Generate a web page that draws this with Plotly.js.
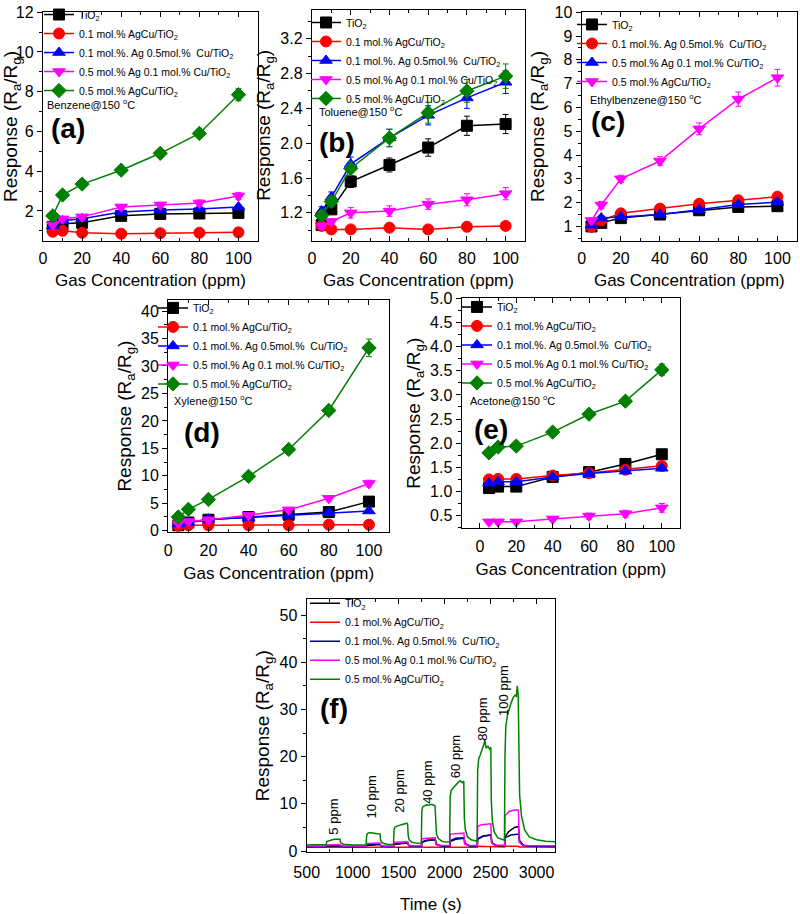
<!DOCTYPE html>
<html><head><meta charset="utf-8">
<script src="https://cdn.plot.ly/plotly-3.0.1.min.js"></script>
<style>html,body{margin:0;padding:0;background:#fff}#chart{width:800px;height:914px}</style>
</head><body><div id="chart"></div>
<script>
// ---------- labels ----------
const labTiO2 = 'TiO<sub>2</sub>';
const lab01 = '0.1 mol.% AgCu/TiO<sub>2</sub>';
const lab01Ag05Cu = '0.1 mol.%. Ag 0.5mol.%  Cu/TiO<sub>2</sub>';
const lab05Ag01Cu = '0.5 mol.% Ag 0.1 mol.% Cu/TiO<sub>2</sub>';
const lab05 = '0.5 mol.% AgCu/TiO<sub>2</sub>';

// ---------- concentrations ----------
const conc = [5, 10, 20, 40, 60, 80, 100];

// ---------- (a) Benzene ----------
const benzTiO2 = [1.2, 1.35, 1.4, 1.75, 1.85, 1.87, 1.9];
const benz01 = [0.95, 1.0, 0.9, 0.85, 0.88, 0.9, 0.92];
const benz01Ag05Cu = [1.25, 1.5, 1.6, 1.95, 2.05, 2.1, 2.2];
const benz05Ag01Cu = [1.3, 1.6, 1.7, 2.2, 2.3, 2.4, 2.75];
const benz05 = [1.75, 2.8, 3.35, 4.05, 4.9, 5.9, 7.85];
const benzErrTiO2 = [0.05, 0.06, 0.07, 0.08, 0.08, 0.09, 0.1];
const benzErr01 = [0.04, 0.04, 0.04, 0.04, 0.04, 0.04, 0.05];
const benzErr01Ag05Cu = [0.06, 0.07, 0.08, 0.1, 0.1, 0.1, 0.11];
const benzErr05Ag01Cu = [0.07, 0.08, 0.09, 0.12, 0.13, 0.15, 0.18];
const benzErr05 = [0.08, 0.1, 0.12, 0.12, 0.15, 0.18, 0.3];

// ---------- (b) Toluene ----------
const tolTiO2 = [1.06, 1.24, 1.56, 1.75, 1.95, 2.2, 2.22];
const tol01 = [1.05, 1.01, 1.01, 1.03, 1.01, 1.04, 1.05];
const tol01Ag05Cu = [1.22, 1.38, 1.76, 2.06, 2.32, 2.52, 2.7];
const tol05Ag01Cu = [1.05, 1.1, 1.2, 1.22, 1.3, 1.35, 1.42];
const tol05 = [1.17, 1.33, 1.71, 2.06, 2.35, 2.6, 2.77];
const tolErrTiO2 = [0.03, 0.05, 0.07, 0.08, 0.1, 0.11, 0.11];
const tolErr01 = [0.02, 0.02, 0.02, 0.02, 0.02, 0.02, 0.02];
const tolErr01Ag05Cu = [0.05, 0.06, 0.08, 0.1, 0.11, 0.12, 0.13];
const tolErr05Ag01Cu = [0.03, 0.03, 0.06, 0.06, 0.06, 0.07, 0.07];
const tolErr05 = [0.05, 0.06, 0.08, 0.1, 0.12, 0.13, 0.14];

// ---------- (c) Ethylbenzene ----------
const ethTiO2 = [1.0, 1.15, 1.35, 1.5, 1.68, 1.82, 1.85];
const eth01Ag05Cu = [0.98, 1.25, 1.55, 1.75, 1.95, 2.1, 2.25];
const eth05Ag01Cu = [1.05, 1.35, 1.4, 1.5, 1.7, 1.92, 2.02];
const eth05 = [1.25, 1.9, 3.0, 3.75, 5.1, 6.35, 7.25];
const ethErrTiO2 = [0.05, 0.06, 0.07, 0.07, 0.08, 0.08, 0.09];
const ethErr01Ag05Cu = [0.05, 0.06, 0.07, 0.08, 0.09, 0.1, 0.1];
const ethErr05Ag01Cu = [0.05, 0.06, 0.07, 0.08, 0.09, 0.1, 0.1];
const ethErr05 = [0.1, 0.15, 0.15, 0.18, 0.25, 0.3, 0.35];

// ---------- (d) Xylene ----------
const xylTiO2 = [1.0, 1.5, 2.0, 2.5, 2.9, 3.4, 5.3];
const xyl01 = [0.9, 1.0, 1.0, 1.0, 1.0, 1.1, 1.1];
const xyl01Ag05Cu = [1.2, 1.5, 2.1, 2.4, 2.8, 3.3, 3.6];
const xyl05Ag01Cu = [1.3, 1.7, 2.0, 2.8, 3.8, 5.9, 8.6];
const xyl05 = [2.5, 3.9, 5.7, 9.9, 14.8, 21.9, 33.3];
const xylErrTiO2 = [0.1, 0.1, 0.15, 0.15, 0.2, 0.2, 0.3];
const xylErr01 = [0.05, 0.05, 0.05, 0.05, 0.05, 0.05, 0.05];
const xylErr01Ag05Cu = [0.1, 0.1, 0.15, 0.15, 0.2, 0.2, 0.3];
const xylErr05Ag01Cu = [0.1, 0.15, 0.2, 0.3, 0.4, 0.5, 0.6];
const xylErr05 = [0.2, 0.3, 0.3, 0.4, 0.5, 0.6, 1.6];

// ---------- (e) Acetone ----------
const aceTiO2 = [1.07, 1.1, 1.1, 1.3, 1.4, 1.57, 1.77];
const ace01 = [1.25, 1.26, 1.26, 1.33, 1.38, 1.45, 1.53];
const ace01Ag05Cu = [1.17, 1.2, 1.2, 1.3, 1.37, 1.42, 1.48];
const ace05Ag01Cu = [0.37, 0.37, 0.37, 0.43, 0.49, 0.54, 0.66];
const ace05 = [1.8, 1.92, 1.94, 2.23, 2.6, 2.87, 3.52];
const aceErrTiO2 = [0.03, 0.03, 0.03, 0.04, 0.04, 0.05, 0.05];
const aceErr01 = [0.03, 0.03, 0.03, 0.04, 0.04, 0.04, 0.05];
const aceErr01Ag05Cu = [0.03, 0.03, 0.03, 0.04, 0.04, 0.04, 0.05];
const aceErr05Ag01Cu = [0.03, 0.03, 0.03, 0.05, 0.06, 0.07, 0.09];
const aceErr05 = [0.04, 0.05, 0.05, 0.06, 0.07, 0.08, 0.12];

// ---------- (f) Xylene dynamic response ----------
const tGreen = [500, 600, 700, 712, 718, 740, 760, 780, 800, 820, 845, 862, 868, 880, 900, 940, 1000, 1100, 1146,
  1152, 1160, 1180, 1200, 1220, 1250, 1280, 1298, 1303, 1315, 1340, 1380, 1444,
  1450, 1460, 1480, 1500, 1530, 1560, 1590, 1598, 1604, 1615, 1640, 1680, 1746,
  1752, 1760, 1780, 1800, 1830, 1860, 1895, 1902, 1912, 1935, 1970, 2020, 2054,
  2060, 2070, 2090, 2110, 2130, 2150, 2170, 2190, 2208, 2214, 2225, 2250, 2290, 2353,
  2359, 2370, 2390, 2410, 2425, 2438, 2450, 2470, 2490, 2502, 2507, 2518, 2540, 2580, 2650,
  2656, 2665, 2685, 2705, 2725, 2745, 2765, 2780, 2790, 2800, 2806, 2815, 2835, 2870, 2920, 3000, 3100, 3200];
const rGreen = [1.3, 1.3, 1.35, 1.4, 2.0, 2.2, 2.3, 2.4, 2.5, 2.55, 2.6, 2.5, 1.9, 1.6, 1.45, 1.35, 1.3, 1.3, 1.3,
  3.2, 3.7, 3.9, 3.8, 3.85, 3.75, 3.7, 3.6, 2.4, 1.9, 1.6, 1.45, 1.4,
  4.6, 5.1, 5.3, 5.4, 5.6, 5.8, 5.9, 5.6, 3.2, 2.4, 1.9, 1.7, 1.6,
  8.5, 9.3, 9.6, 9.8, 9.7, 9.9, 9.6, 5.0, 3.5, 2.6, 2.1, 1.9, 1.9,
  11.5, 12.8, 13.3, 13.8, 14.3, 14.6, 14.9, 14.5, 14.8, 7.0, 4.5, 3.0, 2.4, 2.1,
  17.0, 19.5, 20.5, 21.5, 22.5, 23.5, 21.8, 22.2, 21.6, 22.0, 11.0, 6.5, 4.0, 2.8, 2.3,
  20.0, 26.5, 29.0, 30.5, 31.5, 32.5, 33.0, 32.8, 35.0, 33.0, 18.0, 12.0, 7.5, 4.5, 3.0, 2.4, 2.1, 2.0];

const tPink = [500, 705, 712, 860, 866, 900, 1148, 1152, 1298, 1304, 1340, 1446, 1450, 1598, 1604, 1640, 1748, 1752, 1898, 1904, 1940,
  2056, 2060, 2210, 2216, 2250, 2355, 2359, 2400, 2503, 2509, 2540, 2652, 2656, 2700, 2760, 2803, 2809, 2840, 2900, 3200];
const rPink = [1.1, 1.1, 1.3, 1.4, 1.2, 1.1, 1.1, 1.6, 1.7, 1.2, 1.1, 1.1, 1.9, 2.0, 1.3, 1.15, 1.15, 2.6, 2.8, 1.4, 1.2,
  1.2, 3.6, 3.8, 1.5, 1.25, 1.2, 5.2, 5.6, 5.8, 1.8, 1.3, 1.25, 7.5, 8.4, 8.7, 8.7, 2.0, 1.3, 1.2, 1.15];

const tBlue = [500, 710, 714, 860, 870, 920, 1148, 1152, 1298, 1310, 1360, 1446, 1450, 1598, 1610, 1660, 1748, 1752, 1800, 1898, 1910, 1960,
  2056, 2060, 2120, 2210, 2222, 2270, 2355, 2359, 2420, 2503, 2515, 2560, 2652, 2656, 2720, 2803, 2815, 2860, 2950, 3200];
const rBlue = [0.9, 0.9, 1.1, 1.2, 1.0, 0.9, 0.9, 1.3, 1.5, 1.1, 0.95, 0.95, 1.5, 1.8, 1.2, 1.0, 1.0, 1.9, 2.3, 2.5, 1.5, 1.1,
  1.05, 2.2, 2.7, 2.8, 1.6, 1.15, 1.1, 2.6, 3.2, 3.4, 1.8, 1.2, 1.15, 2.8, 3.4, 3.6, 1.9, 1.2, 1.0, 0.95];

const tBlack = [500, 710, 714, 860, 870, 920, 1148, 1152, 1298, 1310, 1360, 1446, 1450, 1598, 1610, 1660, 1748, 1752, 1800, 1898, 1910, 1960,
  2056, 2060, 2120, 2210, 2222, 2270, 2355, 2359, 2420, 2503, 2515, 2560, 2652, 2656, 2700, 2760, 2803, 2815, 2860, 2950, 3200];
const rBlack = [0.85, 0.85, 1.0, 1.1, 0.95, 0.85, 0.85, 1.2, 1.4, 1.0, 0.9, 0.9, 1.4, 1.7, 1.1, 0.95, 0.95, 1.8, 2.2, 2.4, 1.4, 1.0,
  1.0, 2.0, 2.5, 2.7, 1.5, 1.1, 1.05, 2.5, 3.2, 3.4, 1.7, 1.1, 1.1, 3.0, 4.2, 5.0, 5.2, 2.2, 1.2, 1.0, 0.9];

const tRed = [500, 710, 714, 860, 866, 1148, 1152, 1298, 1304, 1446, 1450, 1598, 1604, 1748, 1752, 1898, 1904,
  2056, 2060, 2210, 2216, 2355, 2359, 2503, 2509, 2652, 2656, 2803, 2809, 3200];
const rRed = [0.8, 0.8, 0.85, 0.85, 0.8, 0.8, 0.85, 0.85, 0.8, 0.8, 0.88, 0.88, 0.8, 0.8, 0.9, 0.9, 0.82,
  0.82, 0.95, 0.95, 0.83, 0.83, 1.0, 1.0, 0.85, 0.85, 1.05, 1.05, 0.86, 0.85];

// ---------- texts ----------
const gasNames = ['Benzene@150 <sup>o</sup>C', 'Toluene@150 <sup>o</sup>C', 'Ethylbenzene@150 <sup>o</sup>C', 'Xylene@150 <sup>o</sup>C', 'Acetone@150 <sup>o</sup>C'];
const panelLabels = ['(a)', '(b)', '(c)', '(d)', '(e)', '(f)'];
const pulseLabels = ['5 ppm', '10 ppm', '20 ppm', '40 ppm', '60 ppm', '80 ppm', '100 ppm'];
const pulseX = [797, 1207, 1515, 1805, 2113, 2410, 2638];
const pulseY = [7.3, 11.5, 12.6, 14.6, 19.9, 27.9, 34.0];

// ---------- styles ----------
const C = {k: '#000000', r: '#ff0000', b: '#0000ff', m: '#ff00ff', g: '#008000'};
const FONT = 'Liberation Sans, Arial, sans-serif';
const traces = [];

function sr(x, y, err, name, color, symbol, n) {
  const ax = n === 1 ? '' : String(n);
  traces.push({
    type: 'scatter', mode: 'lines+markers', x: x, y: y, name: name,
    xaxis: 'x' + ax, yaxis: 'y' + ax, legend: n === 1 ? 'legend' : 'legend' + n,
    line: {color: color, width: 1.5},
    marker: {color: color, symbol: symbol, size: 11, line: {color: color, width: 1}},
    error_y: {type: 'data', array: err, visible: true, color: color, thickness: 1, width: 3}
  });
}
function ln(x, y, name, color) {
  traces.push({type: 'scatter', mode: 'lines', x: x, y: y, name: name, xaxis: 'x6', yaxis: 'y6', legend: 'legend6',
    line: {color: color, width: 1.5}});
}

sr(conc, benzTiO2, benzErrTiO2, labTiO2, C.k, 'square', 1);
sr(conc, benz01, benzErr01, lab01, C.r, 'circle', 1);
sr(conc, benz01Ag05Cu, benzErr01Ag05Cu, lab01Ag05Cu, C.b, 'triangle-up', 1);
sr(conc, benz05Ag01Cu, benzErr05Ag01Cu, lab05Ag01Cu, C.m, 'triangle-down', 1);
sr(conc, benz05, benzErr05, lab05, C.g, 'diamond', 1);

sr(conc, tolTiO2, tolErrTiO2, labTiO2, C.k, 'square', 2);
sr(conc, tol01, tolErr01, lab01, C.r, 'circle', 2);
sr(conc, tol01Ag05Cu, tolErr01Ag05Cu, lab01Ag05Cu, C.b, 'triangle-up', 2);
sr(conc, tol05Ag01Cu, tolErr05Ag01Cu, lab05Ag01Cu, C.m, 'triangle-down', 2);
sr(conc, tol05, tolErr05, lab05, C.g, 'diamond', 2);

sr(conc, ethTiO2, ethErrTiO2, labTiO2, C.k, 'square', 3);
sr(conc, eth01Ag05Cu, ethErr01Ag05Cu, lab01Ag05Cu, C.r, 'circle', 3);
sr(conc, eth05Ag01Cu, ethErr05Ag01Cu, lab05Ag01Cu, C.b, 'triangle-up', 3);
sr(conc, eth05, ethErr05, lab05, C.m, 'triangle-down', 3);

sr(conc, xylTiO2, xylErrTiO2, labTiO2, C.k, 'square', 4);
sr(conc, xyl01, xylErr01, lab01, C.r, 'circle', 4);
sr(conc, xyl01Ag05Cu, xylErr01Ag05Cu, lab01Ag05Cu, C.b, 'triangle-up', 4);
sr(conc, xyl05Ag01Cu, xylErr05Ag01Cu, lab05Ag01Cu, C.m, 'triangle-down', 4);
sr(conc, xyl05, xylErr05, lab05, C.g, 'diamond', 4);

sr(conc, aceTiO2, aceErrTiO2, labTiO2, C.k, 'square', 5);
sr(conc, ace01, aceErr01, lab01, C.r, 'circle', 5);
sr(conc, ace01Ag05Cu, aceErr01Ag05Cu, lab01Ag05Cu, C.b, 'triangle-up', 5);
sr(conc, ace05Ag01Cu, aceErr05Ag01Cu, lab05Ag01Cu, C.m, 'triangle-down', 5);
sr(conc, ace05, aceErr05, lab05, C.g, 'diamond', 5);

ln(tBlack, rBlack, labTiO2, C.k);
ln(tRed, rRed, lab01, C.r);
ln(tBlue, rBlue, lab01Ag05Cu, '#000080');
ln(tPink, rPink, lab05Ag01Cu, C.m);
ln(tGreen, rGreen, lab05, C.g);

// ---------- layout ----------
const W = 800, H = 914;
const px = v => v / W, py = v => 1 - v / H;
const panels = [
  {x: [43, 258], y: [7.3, 237], xr: [0, 110], yr: [0.5, 12], yd: 2, ym: 1, yf: '', xd: 20, xm: 10, xt: 'Gas Concentration (ppm)', t0: 0, ls: 3, ts: 8},
  {x: [312, 525], y: [5, 237], xr: [0, 110], yr: [0.88, 3.53], yd: 0.4, ym: 0.2, yf: '.1f', xd: 20, xm: 10, xt: 'Gas Concentration (ppm)', t0: 1.2, ls: 3, ts: 8},
  {x: [581.7, 797], y: [7.3, 237], xr: [0, 110], yr: [0.4, 10], yd: 1, ym: 0.5, yf: '', xd: 20, xm: 10, xt: 'Gas Concentration (ppm)', t0: 0, ls: 3, ts: 8},
  {x: [168.3, 389], y: [296.7, 530], xr: [0, 110], yr: [-0.25, 42], yd: 5, ym: 2.5, yf: '', xd: 20, xm: 10, xt: 'Gas Concentration (ppm)', t0: 0, ls: 3, ts: 9},
  {x: [461.7, 680], y: [295, 526], xr: [-10, 110], yr: [0.24, 5.0], yd: 0.5, ym: 0.25, yf: '.1f', xd: 20, xm: 10, xt: 'Gas Concentration (ppm)', t0: 0, ls: 3, ts: 9},
  {x: [306.7, 555], y: [597.7, 851.7], xr: [500, 3200], yr: [-0.2, 53.3], yd: 10, ym: 5, yf: '', xd: 500, xm: 250, xt: 'Time (s)', t0: 0, ls: 6, ts: 22}
];
const layout = {
  width: W, height: H, margin: {l: 0, r: 0, t: 0, b: 0},
  paper_bgcolor: '#ffffff', plot_bgcolor: 'rgba(0,0,0,0)',
  font: {family: FONT, color: '#000', size: 15},
  showlegend: true, annotations: []
};
panels.forEach((p, i) => {
  const n = i + 1, s = n === 1 ? '' : String(n);
  layout['xaxis' + s] = {
    domain: [px(p.x[0]), px(p.x[1])], range: p.xr, anchor: 'y' + s,
    showgrid: false, zeroline: false, showline: true, linecolor: '#000', linewidth: 1.2, mirror: 'ticks',
    ticks: 'inside', ticklen: 5, tickwidth: 1, tickcolor: '#000', dtick: p.xd, tick0: 0,
    minor: {ticks: 'inside', ticklen: 3, dtick: p.xm, tickcolor: '#000'},
    tickfont: {size: 16, family: FONT}, ticklabelstandoff: p.ls,
    title: {text: p.xt, font: {size: 17, family: FONT}, standoff: p.ts}
  };
  layout['yaxis' + s] = {
    domain: [py(p.y[1]), py(p.y[0])], range: p.yr, anchor: 'x' + s,
    showgrid: false, zeroline: false, showline: true, linecolor: '#000', linewidth: 1.2, mirror: true,
    ticks: 'outside', ticklen: 5, tickwidth: 1, tickcolor: '#000', dtick: p.yd, tick0: p.t0, tickformat: p.yf,
    minor: {ticks: 'outside', ticklen: 3, dtick: p.ym, tickcolor: '#000'},
    tickfont: {size: 16, family: FONT},
    title: {text: 'Response (R<sub>a</sub>/R<sub>g</sub>)', font: {size: 19, family: FONT}, standoff: 4}
  };
  layout['yaxis' + (n + 6)] = {
    domain: [py(p.y[1]), py(p.y[0])], range: p.yr, anchor: 'x' + s, overlaying: 'y' + s, side: 'right',
    showgrid: false, zeroline: false, showline: false, showticklabels: false,
    ticks: 'inside', ticklen: 5, tickwidth: 1, tickcolor: '#000', dtick: p.yd, tick0: p.t0,
    minor: {ticks: 'inside', ticklen: 3, dtick: p.ym, tickcolor: '#000'}
  };
});
// legends
const legPos = [[39, -5], [306, 3], [572, 5], [153, 290], [457, 289], [305, 587]];
legPos.forEach((lp, i) => {
  const key = i === 0 ? 'legend' : 'legend' + (i + 1);
  layout[key] = {x: px(lp[0]), y: py(lp[1]), xanchor: 'left', yanchor: 'top', bgcolor: 'rgba(0,0,0,0)',
    borderwidth: 0, font: {size: 10.5, family: FONT}, tracegroupgap: 0, itemwidth: 30, traceorder: 'normal'};
});
// gas annotations
const gasPos = [[45, 100], [317, 107], [588, 95], [172, 397], [468, 397]];
gasNames.forEach((g, i) => {
  layout.annotations.push({text: g, xref: 'paper', yref: 'paper', x: px(gasPos[i][0]), y: py(gasPos[i][1]),
    xanchor: 'left', yanchor: 'middle', showarrow: false, font: {size: 11, family: FONT}});
});
const labPos = [[68, 124], [337, 138], [608, 117], [202, 430], [491, 427], [334, 707]];
panelLabels.forEach((l, i) => {
  layout.annotations.push({text: '<b>' + l + '</b>', xref: 'paper', yref: 'paper', x: px(labPos[i][0]), y: py(labPos[i][1]),
    xanchor: 'center', yanchor: 'middle', showarrow: false, font: {size: 28, family: FONT}});
});
pulseLabels.forEach((l, i) => {
  layout.annotations.push({text: l, xref: 'x6', yref: 'y6', x: pulseX[i], y: pulseY[i], textangle: -90,
    xanchor: 'center', yanchor: 'middle', showarrow: false, font: {size: 13, family: FONT}});
});

Plotly.newPlot('chart', traces, layout, {displayModeBar: false, staticPlot: true});
</script></body></html>
